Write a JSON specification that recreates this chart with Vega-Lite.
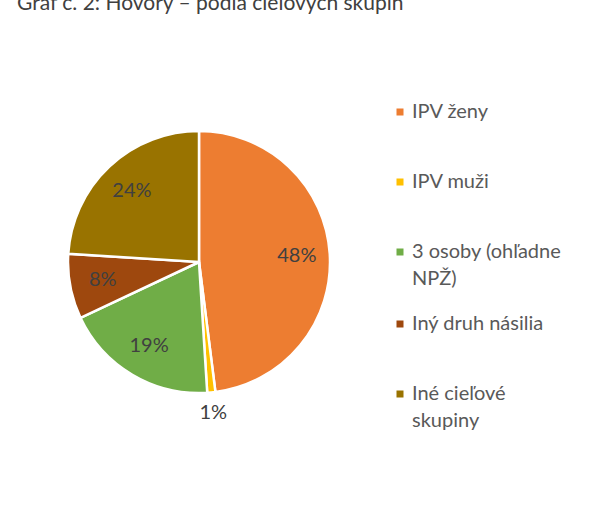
{
  "$schema": "https://vega.github.io/schema/vega-lite/v6.json",
  "width": 262,
  "height": 262,
  "autosize": {"type": "none"},
  "padding": {"left": 68, "top": 131, "right": 266, "bottom": 120},
  "background": "white",
  "title": {"text": "Graf č. 2: Hovory – podľa cieľových skupín", "anchor": "start", "frame": "group", "offset": 63, "dx": -51, "fontSize": 21, "font": "Lato", "fontWeight": "normal", "color": "#404040"},
  "config": {"style": {"guide-label": {"lineHeight": 27}}},
  "data": {"values": [
    {"idx": 1, "cat": "IPV ženy", "value": 0.48},
    {"idx": 2, "cat": "IPV muži", "value": 0.01},
    {"idx": 3, "cat": "3 osoby (ohľadne NPŽ)", "value": 0.19},
    {"idx": 4, "cat": "Iný druh násilia", "value": 0.08},
    {"idx": 5, "cat": "Iné cieľové skupiny", "value": 0.24}
  ]},
  "encoding": {
    "theta": {"field": "value", "type": "quantitative", "stack": true},
    "order": {"field": "idx", "type": "quantitative"}
  },
  "layer": [
    {
      "mark": {"type": "arc", "outerRadius": 131, "stroke": "white", "strokeWidth": 2.5},
      "encoding": {
        "color": {
          "field": "cat", "type": "nominal",
          "scale": {
            "domain": ["IPV ženy", "IPV muži", "3 osoby (ohľadne NPŽ)", "Iný druh násilia", "Iné cieľové skupiny"],
            "range": ["#ED7D31", "#FFC000", "#70AD47", "#9E480E", "#997300"]
          },
          "legend": {
            "title": null,
            "orient": "none",
            "legendX": 322,
            "legendY": -54,
            "padding": 0,
            "symbolType": "square",
            "symbolSize": 49,
            "symbolStrokeWidth": 0,
            "labelFont": "Lato",
            "labelFontSize": 20,
            "labelColor": "#595959",
            "labelOffset": 2,
            "labelLimit": 300,
            "rowPadding": 0,
            "clipHeight": 70,
            "labelExpr": "datum.label == '3 osoby (ohľadne NPŽ)' ? ['3 osoby (ohľadne', 'NPŽ)'] : datum.label == 'Iné cieľové skupiny' ? ['Iné cieľové', 'skupiny'] : datum.label"
          }
        }
      }
    },
    {
      "mark": {"type": "text", "radius": 98, "font": "Lato", "fontSize": 20, "color": "#404040"},
      "encoding": {
        "text": {"condition": {"test": "datum.idx != 2", "field": "value", "format": ".0%"}, "value": ""}
      }
    },
    {
      "mark": {"type": "text", "radius": 152, "font": "Lato", "fontSize": 20, "color": "#404040"},
      "encoding": {
        "text": {"condition": {"test": "datum.idx == 2", "field": "value", "format": ".0%"}, "value": ""}
      }
    }
  ]
}
